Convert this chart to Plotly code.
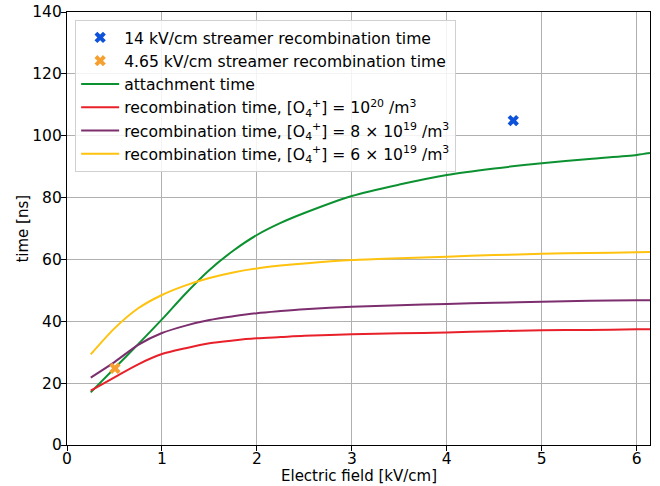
import plotly.graph_objects as go

# electric field [kV/cm]
field = [0.25, 0.5, 0.75, 1.0, 1.25, 1.5, 1.75, 2.0, 2.25, 2.5, 3.0, 3.5, 4.0, 4.5, 5.0, 5.5, 6.0, 6.14]

# times [ns]
attachment = [17.0, 24.8, 32.6, 40.6, 49.0, 56.6, 62.8, 67.9, 71.8, 75.0, 80.5, 84.2, 87.3, 89.4, 91.1, 92.5, 93.8, 94.4]
recomb_1e20 = [17.6, 21.9, 26.1, 29.4, 31.3, 32.9, 33.8, 34.5, 34.9, 35.3, 35.8, 36.1, 36.4, 36.8, 37.1, 37.2, 37.4, 37.4]
recomb_8e19 = [21.8, 26.8, 32.4, 36.2, 38.6, 40.4, 41.6, 42.6, 43.3, 43.9, 44.7, 45.2, 45.6, 46.0, 46.3, 46.6, 46.8, 46.8]
recomb_6e19 = [29.3, 37.7, 44.2, 48.5, 51.6, 54.0, 55.8, 57.1, 58.0, 58.7, 59.8, 60.4, 60.9, 61.4, 61.8, 62.1, 62.3, 62.4]

streamer_14_x = [4.7]
streamer_14_y = [104.9]
streamer_465_x = [0.505]
streamer_465_y = [24.8]

FONT = "DejaVu Sans"

fig = go.Figure()

fig.add_trace(go.Scatter(
    x=field, y=attachment, mode="lines", legendrank=3,
    line=dict(color="#0c9130", width=2, shape="spline", smoothing=0.8),
    name="attachment time"
))
fig.add_trace(go.Scatter(
    x=field, y=recomb_1e20, mode="lines", legendrank=4,
    line=dict(color="#e8202a", width=2, shape="spline", smoothing=0.8),
    name="recombination time, [O<sub>4</sub><sup>+</sup>] = 10<sup>20</sup> /m<sup>3</sup>"
))
fig.add_trace(go.Scatter(
    x=field, y=recomb_8e19, mode="lines", legendrank=5,
    line=dict(color="#7d2e6e", width=2, shape="spline", smoothing=0.8),
    name="recombination time, [O<sub>4</sub><sup>+</sup>] = 8 × 10<sup>19</sup> /m<sup>3</sup>"
))
fig.add_trace(go.Scatter(
    x=field, y=recomb_6e19, mode="lines", legendrank=6,
    line=dict(color="#ffc20e", width=2, shape="spline", smoothing=0.8),
    name="recombination time, [O<sub>4</sub><sup>+</sup>] = 6 × 10<sup>19</sup> /m<sup>3</sup>"
))
# markers drawn on top of the curves but listed first in the legend
fig.add_trace(go.Scatter(
    x=streamer_14_x, y=streamer_14_y, mode="markers", legendrank=1,
    name="14 kV/cm streamer recombination time",
    marker=dict(symbol="x", size=10, color="#0d52d9")
))
fig.add_trace(go.Scatter(
    x=streamer_465_x, y=streamer_465_y, mode="markers", legendrank=2,
    name="4.65 kV/cm streamer recombination time",
    marker=dict(symbol="x", size=10, color="#f5a030")
))

axis_common = dict(
    showgrid=True, gridcolor="#b0b0b0", gridwidth=1,
    showline=True, linecolor="black", linewidth=1.2, mirror=True,
    ticks="outside", ticklen=5, tickcolor="black",
    tickfont=dict(family=FONT, size=15.5, color="black"),
    zeroline=False, automargin=False,
)

fig.update_xaxes(range=[0, 6.14], dtick=1, ticklabelstandoff=-6, **axis_common)
fig.update_yaxes(range=[0, 140], dtick=20, ticklabelstandoff=-4, **axis_common)

# axis titles placed as annotations to sit close to the tick labels
fig.add_annotation(text="Electric field [kV/cm]", xref="paper", yref="paper",
                   x=0.5, y=-0.071, xanchor="center", yanchor="middle",
                   showarrow=False, font=dict(family=FONT, size=15))
fig.add_annotation(text="time [ns]", xref="paper", yref="paper",
                   x=-0.077, y=0.5, xanchor="center", yanchor="middle", textangle=-90,
                   showarrow=False, font=dict(family=FONT, size=15))

fig.update_layout(
    width=660, height=486,
    margin=dict(l=67, r=10, t=12, b=41),
    plot_bgcolor="white", paper_bgcolor="white",
    font=dict(family=FONT, color="black"),
    legend=dict(
        x=0.014, y=0.982, xanchor="left", yanchor="top",
        bgcolor="rgba(255,255,255,0.85)", bordercolor="#d0d0d0", borderwidth=1,
        font=dict(family=FONT, size=15.6), tracegroupgap=0, itemwidth=38,
    ),
)

# drop the default body margin so the figure sits at the page's top-left corner
fig.write_html("out.html", config={"displayModeBar": False},
               post_script="document.body.style.margin='0px';")
